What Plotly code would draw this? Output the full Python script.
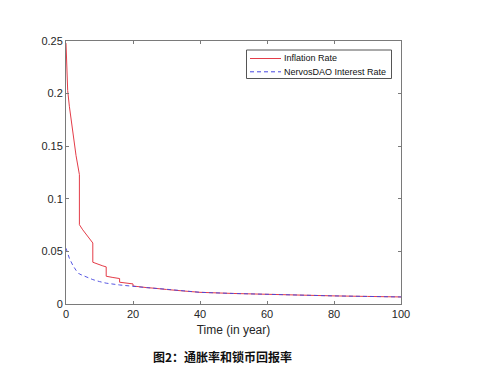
import plotly.graph_objects as go

# Inflation rate (red, solid)
infl_t = [0, 0.5, 1, 2, 3, 4, 4, 5, 6, 7, 8, 8, 9, 10, 11, 12, 12, 14, 16, 16, 18, 20, 20, 22, 24, 24, 26, 28, 28,
          30, 35, 40, 50, 60, 70, 80, 90, 100]
infl_v = [0.248, 0.203, 0.188, 0.162, 0.141, 0.123, 0.0754, 0.0705, 0.066, 0.062, 0.058, 0.0397, 0.0384, 0.0372,
          0.0362, 0.0353, 0.0264, 0.0252, 0.0242, 0.0207, 0.0199, 0.0191, 0.0171, 0.0167, 0.0163, 0.0156, 0.0151,
          0.0147, 0.0143, 0.0138, 0.0124, 0.0111, 0.0100, 0.0091, 0.0083, 0.0077, 0.0072, 0.0067]

# NervosDAO interest rate (blue, dashed)
dao_t = [0, 1, 2, 3, 4, 6, 8, 10, 12, 16, 20, 24, 30, 40, 50, 60, 70, 80, 90, 100]
dao_v = [0.053, 0.0435, 0.037, 0.032, 0.0285, 0.0255, 0.0232, 0.0213, 0.0198, 0.0181, 0.0167, 0.0156, 0.0140,
         0.0111, 0.0100, 0.0091, 0.0083, 0.0077, 0.0072, 0.0067]

series_names = ["Inflation Rate", "NervosDAO Interest Rate"]
series_colors = ["rgb(228,60,72)", "rgb(70,70,225)"]
series_dash = ["solid", "4px,3px"]

x_ticks = [0, 20, 40, 60, 80, 100]
y_ticks = [0, 0.05, 0.1, 0.15, 0.2, 0.25]
y_labels = ["0", "0.05", "0.1", "0.15", "0.2", "0.25"]

L, R, T, B = 66, 85, 41, 71
W, H = 486, 375
PW, PH = W - L - R, H - T - B


def px_x(p):
    return (p - L) / PW


def px_y(p):
    return (H - B - p) / PH


fig = go.Figure()
fig.add_trace(go.Scatter(x=infl_t, y=infl_v, mode="lines", name=series_names[0],
                         line=dict(color=series_colors[0], width=1, dash=series_dash[0])))
fig.add_trace(go.Scatter(x=dao_t, y=dao_v, mode="lines", name=series_names[1],
                         line=dict(color=series_colors[1], width=1, dash=series_dash[1]), opacity=0.9))

axis_common = dict(showline=True, linecolor="#7a7a7a", linewidth=1, mirror="allticks",
                   ticks="inside", ticklen=3, tickcolor="#7a7a7a", showgrid=False, zeroline=False,
                   tickfont=dict(family="Arial, Liberation Sans", size=11, color="#262626"))

shapes = [dict(type="rect", xref="paper", yref="paper",
               x0=px_x(246.5), x1=px_x(391.5), y0=px_y(78.5), y1=px_y(50),
               line=dict(color="#555", width=1), fillcolor="white", layer="above")]
annotations = []
for i, (nm, col, dsh) in enumerate(zip(series_names, series_colors, series_dash)):
    yy = 58.5 + 13.3 * i
    shapes.append(dict(type="line", xref="paper", yref="paper",
                       x0=px_x(250), x1=px_x(281), y0=px_y(yy), y1=px_y(yy),
                       line=dict(color=col, width=1, dash=dsh), layer="above"))
    annotations.append(dict(text=nm, x=px_x(282), y=px_y(yy), xref="paper", yref="paper",
                            xanchor="left", yanchor="middle", showarrow=False,
                            font=dict(family="Arial, Liberation Sans", size=9, color="#111")))

annotations.append(dict(text="<b>图2：通胀率和锁币回报率</b>", x=px_x(222), y=px_y(356),
                        xref="paper", yref="paper", xanchor="center", yanchor="middle",
                        showarrow=False,
                        font=dict(family="Noto Sans CJK SC", size=12, color="#111")))

fig.update_layout(
    width=W, height=H,
    margin=dict(l=L, r=R, t=T, b=B),
    paper_bgcolor="white", plot_bgcolor="white",
    xaxis=dict(range=[0, 100], tickvals=x_ticks, ticktext=[str(v) for v in x_ticks],
               title=dict(text="Time (in year)", standoff=6,
                          font=dict(family="Arial, Liberation Sans", size=12, color="#262626")),
               **axis_common),
    yaxis=dict(range=[0, 0.25], tickvals=y_ticks, ticktext=y_labels, **axis_common),
    showlegend=False,
    shapes=shapes,
    annotations=annotations,
)

fig.write_html("out.html")
